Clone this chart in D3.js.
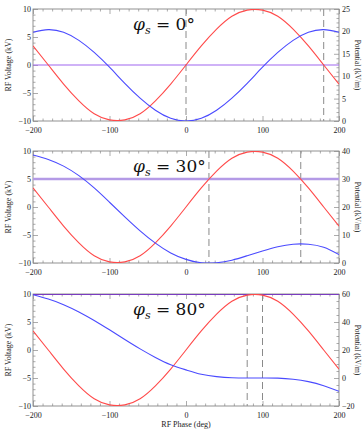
<!DOCTYPE html>
<html>
<head>
<meta charset="utf-8">
<script src="https://cdn.jsdelivr.net/npm/d3@7"></script>
<style>
  body { margin: 0; background: #fff; }
  svg text { font-family: 'Liberation Serif', 'DejaVu Serif', serif; }
</style>
</head>
<body>
<div id="chart"></div>
<script>
// phase samples (deg)
const phase = [-200, -180, -160, -140, -120, -100, -80, -60, -40, -20, 0, 20, 40, 60, 80, 100, 120, 140, 160, 180, 200]
// RF voltage (kV), same in every panel
const rfVoltage = [3.4, 0, -3.4, -6.4, -8.7, -9.8, -9.8, -8.7, -6.4, -3.4, 0, 3.4, 6.4, 8.7, 9.8, 9.8, 8.7, 6.4, 3.4, 0, -3.4]
// potential (kV/m), right axis
const potential0 = [19.8, 20.4, 19.8, 18.0, 15.3, 12.0, 8.4, 5.1, 2.4, 0.6, 0, 0.6, 2.4, 5.1, 8.4, 12.0, 15.3, 18.0, 19.8, 20.4, 19.8]
const potential30 = [38.6, 37.0, 34.6, 31.2, 26.8, 21.7, 16.5, 11.5, 7.1, 3.6, 1.3, 0.1, 0.1, 1.0, 2.6, 4.3, 5.8, 6.7, 6.7, 5.6, 3.0]
const potential80 = [59.5, 56.4, 52.4, 47.2, 41.1, 34.4, 27.5, 20.8, 14.7, 9.5, 5.8, 2.7, 1.0, 0.2, 0, 0, -0.1, -0.9, -2.6, -5.5, -9.5]
// synchronous voltage level (kV)
const synchLevel = [0, 5, 10]
const phiLabels = ['0°', '30°', '80°']
const dashedPhases = [[0, 180], [30, 150], [80, 100]]
const rightDomains = [[0, 25], [0, 40], [-20, 60]]
const rightMajor = [5, 10, 20]
const rightMinor = [1, 2, 5]
const potentials = [potential0, potential30, potential80]

const panelTops = [9, 151, 294]
const left = 33
const width = 306
const height = 112

const svg = d3.select('#chart').append('svg')
  .attr('width', 362)
  .attr('height', 429)

const x = d3.scaleLinear().domain([-200, 200]).range([0, width])
const xMajor = d3.range(-200, 201, 100)
const xMinor = d3.range(-200, 201, 12.5).filter(v => v % 100 !== 0)

const synchStyles = [
  { color: '#a066f0', w: 1.2 },
  { color: '#b49ae6', w: 2.5 },
  { color: '#7a3cc0', w: 2.2 },
]

panelTops.forEach((top, p) => {
  const g = svg.append('g').attr('transform', `translate(${left}, ${top})`)

  const y = d3.scaleLinear().domain([-10, 10]).range([height, 0])
  const y2 = d3.scaleLinear().domain(rightDomains[p]).range([height, 0])

  g.append('clipPath').attr('id', 'clip' + p)
    .append('rect').attr('width', width).attr('height', height)

  // frame
  g.append('rect')
    .attr('width', width).attr('height', height)
    .attr('fill', 'none').attr('stroke', '#777').attr('stroke-width', 0.8)

  const tickStyle = sel => {
    sel.select('.domain').remove()
    sel.selectAll('line').attr('stroke', '#888').attr('stroke-width', 0.7)
    sel.selectAll('text').attr('fill', '#222').attr('font-size', '8px')
      .style('font-family', "'Liberation Serif', serif")
  }

  // x axis bottom and top
  g.append('g').attr('transform', `translate(0, ${height})`)
    .call(d3.axisBottom(x).tickValues(xMajor).tickSize(-5).tickSizeOuter(0).tickPadding(6))
    .call(tickStyle)
  g.append('g').attr('transform', `translate(0, ${height})`)
    .call(d3.axisBottom(x).tickValues(xMinor).tickSize(-2.5).tickFormat('').tickSizeOuter(0))
    .call(tickStyle)
  g.append('g')
    .call(d3.axisTop(x).tickValues(xMajor).tickSize(-5).tickFormat('').tickSizeOuter(0))
    .call(tickStyle)
  g.append('g')
    .call(d3.axisTop(x).tickValues(xMinor).tickSize(-2.5).tickFormat('').tickSizeOuter(0))
    .call(tickStyle)

  // left axis
  g.append('g')
    .call(d3.axisLeft(y).tickValues([-10, -5, 0, 5, 10]).tickSize(-5).tickSizeOuter(0).tickPadding(2))
    .call(tickStyle)
  g.append('g')
    .call(d3.axisLeft(y).tickValues(d3.range(-10, 11, 1).filter(v => v % 5 !== 0)).tickSize(-2.5).tickFormat('').tickSizeOuter(0))
    .call(tickStyle)

  // right axis
  const [r0, r1] = rightDomains[p]
  g.append('g').attr('transform', `translate(${width}, 0)`)
    .call(d3.axisRight(y2).tickValues(d3.range(r0, r1 + 0.1, rightMajor[p])).tickSize(-5).tickSizeOuter(0).tickPadding(3))
    .call(tickStyle)
  g.append('g').attr('transform', `translate(${width}, 0)`)
    .call(d3.axisRight(y2).tickValues(d3.range(r0, r1 + 0.1, rightMinor[p]).filter(v => v % rightMajor[p] !== 0)).tickSize(-2.5).tickFormat('').tickSizeOuter(0))
    .call(tickStyle)

  const plot = g.append('g').attr('clip-path', `url(#clip${p})`)

  // dashed phase markers
  dashedPhases[p].forEach(d => {
    plot.append('line')
      .attr('x1', x(d)).attr('x2', x(d))
      .attr('y1', 0).attr('y2', height)
      .attr('stroke', '#8a8a8a').attr('stroke-width', 1)
      .attr('stroke-dasharray', '7,4')
  })

  // synchronous level
  plot.append('line')
    .attr('x1', 0).attr('x2', width)
    .attr('y1', y(synchLevel[p])).attr('y2', y(synchLevel[p]))
    .attr('stroke', synchStyles[p].color)
    .attr('stroke-width', synchStyles[p].w)

  const lineV = d3.line().x((d, i) => x(phase[i])).y(d => y(d)).curve(d3.curveNatural)
  const lineP = d3.line().x((d, i) => x(phase[i])).y(d => y2(d)).curve(d3.curveNatural)

  plot.append('path').datum(rfVoltage)
    .attr('d', lineV).attr('fill', 'none')
    .attr('stroke', '#ff4a4a').attr('stroke-width', 1.1)

  plot.append('path').datum(potentials[p])
    .attr('d', lineP).attr('fill', 'none')
    .attr('stroke', '#4a4aff').attr('stroke-width', 1.1)

  // phi_s label
  const lab = g.append('text')
    .attr('x', 100).attr('y', 21)
    .attr('font-size', '17px')
    .attr('fill', '#111')
    .style('font-family', "'DejaVu Serif', serif")
  lab.append('tspan').attr('font-style', 'italic').text('φ')
  lab.append('tspan').attr('font-style', 'italic').attr('font-size', '11px').attr('dy', 4).text('s')
  lab.append('tspan').attr('dy', -4).text(' = ' + phiLabels[p])

  // axis titles
  g.append('text')
    .attr('transform', `translate(-22, ${height / 2}) rotate(-90)`)
    .attr('text-anchor', 'middle')
    .attr('font-size', '8px')
    .attr('fill', '#222')
    .text('RF Voltage (kV)')

  g.append('text')
    .attr('transform', `translate(${width + 16}, ${height / 2}) rotate(90)`)
    .attr('text-anchor', 'middle')
    .attr('font-size', '7.5px')
    .attr('fill', '#222')
    .text('Potential (kV/m)')
})

svg.append('text')
  .attr('x', left + width / 2).attr('y', 427)
  .attr('text-anchor', 'middle')
  .attr('font-size', '8px')
  .attr('fill', '#222')
  .text('RF Phase (deg)')
</script>
</body>
</html>
